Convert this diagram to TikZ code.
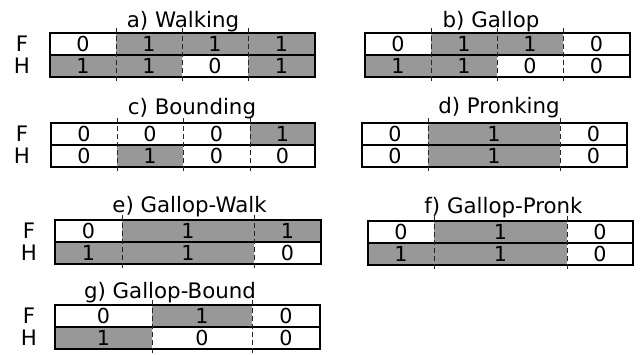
\documentclass[tikz,border=0pt]{standalone}
\usepackage{fontspec}
\setmainfont{DejaVu Sans}
\usetikzlibrary{calc}
\definecolor{cellgray}{RGB}{152,152,152}
\tikzset{
  cell/.style={inner sep=0pt, outer sep=0pt, minimum height=16.5pt, anchor=north west, font=\fontsize{15.5}{15.5}\selectfont},
  on/.style={cell, fill=cellgray},
  off/.style={cell, fill=white},
  rowline/.style={draw=black, line width=0.9pt},
  divider/.style={draw=black!85, dash pattern=on 3.5pt off 2.5pt, line width=0.65pt},
  title/.style={anchor=base, font=\fontsize{16}{16}\selectfont},
  side/.style={font=\fontsize{16}{16}\selectfont},
}
\newcommand\gcell[6]{\node[#5, minimum width={(#3-#2)*0.75pt}] (#1) at (#2,#4) {#6};}
\newcommand\gframe[2]{\draw[rowline] (#1.north west) rectangle (#2.south east);}
\newcommand\gdash[2]{\draw[divider] ($(#1.north west)+(0,-5)$) -- ($(#2.south west)+(0,5)$);}
\begin{document}
\begin{tikzpicture}[x=0.75pt, y=-0.75pt]
\useasboundingbox (0,0) rectangle (641,354);
% ---------- a) Walking
\node[title] (ta) at (183,27) {a) Walking};
\node[side] (aF) at (22,44) {F};
\node[side] (aH) at (22,66) {H};
\gcell{a-F1}{50}{116}{33}{off}{0}
\gcell{a-F2}{116}{182}{33}{on}{1}
\gcell{a-F3}{182}{248}{33}{on}{1}
\gcell{a-F4}{248}{315}{33}{on}{1}
\gcell{a-H1}{50}{116}{55}{on}{1}
\gcell{a-H2}{116}{182}{55}{on}{1}
\gcell{a-H3}{182}{248}{55}{off}{0}
\gcell{a-H4}{248}{315}{55}{on}{1}
\gframe{a-F1}{a-F4}\gframe{a-H1}{a-H4}
\gdash{a-F2}{a-H2}\gdash{a-F3}{a-H3}\gdash{a-F4}{a-H4}
% ---------- b) Gallop
\node[title] (tb) at (491,27) {b) Gallop};
\gcell{b-F1}{365}{431}{33}{off}{0}
\gcell{b-F2}{431}{497}{33}{on}{1}
\gcell{b-F3}{497}{563}{33}{on}{1}
\gcell{b-F4}{563}{630}{33}{off}{0}
\gcell{b-H1}{365}{431}{55}{on}{1}
\gcell{b-H2}{431}{497}{55}{on}{1}
\gcell{b-H3}{497}{563}{55}{off}{0}
\gcell{b-H4}{563}{630}{55}{off}{0}
\gframe{b-F1}{b-F4}\gframe{b-H1}{b-H4}
\gdash{b-F2}{b-H2}\gdash{b-F3}{b-H3}\gdash{b-F4}{b-H4}
% ---------- c) Bounding
\node[title] (tc) at (192,114) {c) Bounding};
\node[side] (cF) at (22,134) {F};
\node[side] (cH) at (22,156) {H};
\gcell{c-F1}{51}{117}{123}{off}{0}
\gcell{c-F2}{117}{183}{123}{off}{0}
\gcell{c-F3}{183}{250}{123}{off}{0}
\gcell{c-F4}{250}{315}{123}{on}{1}
\gcell{c-H1}{51}{117}{145}{off}{0}
\gcell{c-H2}{117}{183}{145}{on}{1}
\gcell{c-H3}{183}{250}{145}{off}{0}
\gcell{c-H4}{250}{315}{145}{off}{0}
\gframe{c-F1}{c-F4}\gframe{c-H1}{c-H4}
\gdash{c-F2}{c-H2}\gdash{c-F3}{c-H3}\gdash{c-F4}{c-H4}
% ---------- d) Pronking
\node[title] (td) at (499,113) {d) Pronking};
\gcell{d-F1}{362}{428}{123}{off}{0}
\gcell{d-F2}{428}{560}{123}{on}{1}
\gcell{d-F3}{560}{627}{123}{off}{0}
\gcell{d-H1}{362}{428}{145}{off}{0}
\gcell{d-H2}{428}{560}{145}{on}{1}
\gcell{d-H3}{560}{627}{145}{off}{0}
\gframe{d-F1}{d-F3}\gframe{d-H1}{d-H3}
\gdash{d-F2}{d-H2}\gdash{d-F3}{d-H3}
% ---------- e) Gallop-Walk
\node[title] (te) at (189.5,212) {e) Gallop-Walk};
\node[side] (eF) at (29,231) {F};
\node[side] (eH) at (29,253) {H};
\gcell{e-F1}{55}{122}{220}{off}{0}
\gcell{e-F2}{122}{254}{220}{on}{1}
\gcell{e-F3}{254}{321}{220}{on}{1}
\gcell{e-H1}{55}{122}{242}{on}{1}
\gcell{e-H2}{122}{254}{242}{on}{1}
\gcell{e-H3}{254}{321}{242}{off}{0}
\gframe{e-F1}{e-F3}\gframe{e-H1}{e-H3}
\gdash{e-F2}{e-H2}\gdash{e-F3}{e-H3}
% ---------- f) Gallop-Pronk
\node[title] (tf) at (503.5,213) {f) Gallop-Pronk};
\gcell{f-F1}{368}{434}{221}{off}{0}
\gcell{f-F2}{434}{567}{221}{on}{1}
\gcell{f-F3}{567}{633}{221}{off}{0}
\gcell{f-H1}{368}{434}{243}{on}{1}
\gcell{f-H2}{434}{567}{243}{on}{1}
\gcell{f-H3}{567}{633}{243}{off}{0}
\gframe{f-F1}{f-F3}\gframe{f-H1}{f-H3}
\gdash{f-F2}{f-H2}\gdash{f-F3}{f-H3}
% ---------- g) Gallop-Bound
\node[title] (tg) at (170,298) {g) Gallop-Bound};
\node[side] (gF) at (29,316) {F};
\node[side] (gH) at (29,338) {H};
\gcell{g-F1}{55}{152}{305}{off}{0}
\gcell{g-F2}{152}{252}{305}{on}{1}
\gcell{g-F3}{252}{320}{305}{off}{0}
\gcell{g-H1}{55}{152}{327}{on}{1}
\gcell{g-H2}{152}{252}{327}{off}{0}
\gcell{g-H3}{252}{320}{327}{off}{0}
\gframe{g-F1}{g-F3}\gframe{g-H1}{g-H3}
\gdash{g-F2}{g-H2}\gdash{g-F3}{g-H3}
\end{tikzpicture}
\end{document}
